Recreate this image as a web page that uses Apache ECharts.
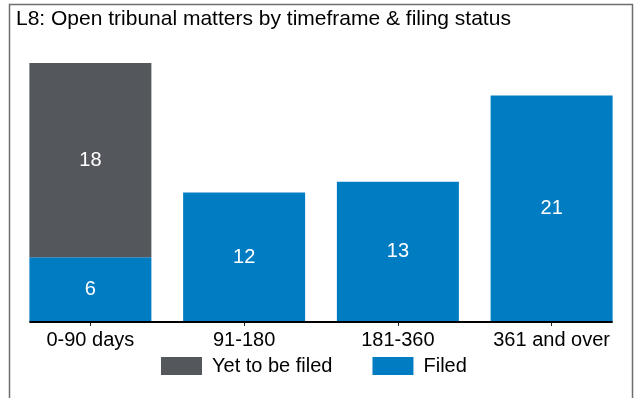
<!DOCTYPE html>
<html>
<head>
<meta charset="utf-8">
<script src="https://cdn.jsdelivr.net/npm/echarts@6/dist/echarts.min.js"></script>
<style>
  html, body { margin: 0; padding: 0; background: #fff; }
  #chart { width: 643px; height: 398px; }
</style>
</head>
<body>
<div id="chart"></div>
<script>
// Open tribunal matters, grouped by age bucket and split by filing status
const categories = ['0-90 days', '91-180', '181-360', '361 and over'];
const filed = [6, 12, 13, 21];
const yetToBeFiled = [18, null, null, null];

const FONT = '"Liberation Sans", Arial, sans-serif';
const BAR_W = 122;
const GREY = '#54575b';
const BLUE = '#007cc3';

const chart = echarts.init(document.getElementById('chart'), null, { renderer: 'canvas' });

const labelStyle = {
  show: true,
  position: 'inside',
  color: '#fff',
  fontSize: 20,
  fontFamily: FONT
};

chart.setOption({
  animation: false,
  backgroundColor: '#fff',
  title: {
    text: 'L8: Open tribunal matters by timeframe & filing status',
    left: 16,
    top: 9,
    padding: 0,
    textStyle: { fontSize: 21, fontWeight: 'normal', color: '#000', fontFamily: FONT }
  },
  legend: {
    data: ['Yet to be filed', 'Filed'],
    left: 161,
    top: 356,
    padding: 0,
    itemWidth: 41,
    itemHeight: 18,
    itemGap: 40,
    icon: 'rect',
    textStyle: { fontSize: 20, color: '#000', fontFamily: FONT, padding: [0, 0, 0, 5] }
  },
  grid: { left: 13.5, right: 14.5, top: 63, bottom: 76, containLabel: false },
  xAxis: {
    type: 'category',
    data: categories,
    axisLine: { show: false },
    axisTick: { show: true, alignWithLabel: true, length: 4, lineStyle: { color: '#222', width: 1 } },
    axisLabel: { color: '#000', fontSize: 20, fontFamily: FONT, margin: 8 },
    splitLine: { show: false }
  },
  yAxis: {
    type: 'value',
    min: 0,
    max: 24,
    show: false,
    splitLine: { show: false }
  },
  series: [
    {
      name: 'Filed',
      type: 'bar',
      stack: 'total',
      barWidth: BAR_W,
      data: filed,
      itemStyle: { color: BLUE },
      label: labelStyle
    },
    {
      name: 'Yet to be filed',
      type: 'bar',
      stack: 'total',
      barWidth: BAR_W,
      data: yetToBeFiled,
      itemStyle: { color: GREY },
      label: labelStyle
    }
  ]
});

// Baseline running from the outer edge of the first bar to the outer edge of the last bar,
// plus the outer frame of the panel.
const xFirst = chart.convertToPixel({ xAxisIndex: 0 }, categories[0]) - BAR_W / 2;
const xLast = chart.convertToPixel({ xAxisIndex: 0 }, categories[categories.length - 1]) + BAR_W / 2;
const yZero = chart.convertToPixel({ yAxisIndex: 0 }, 0);

chart.setOption({
  graphic: [
    {
      type: 'line',
      shape: { x1: xFirst, y1: yZero, x2: xLast, y2: yZero },
      style: { stroke: '#000', lineWidth: 2 },
      z: 10
    },
    {
      type: 'rect',
      shape: { x: 9.5, y: 4.5, width: 623, height: 420 },
      style: { fill: null, stroke: '#6e6e6e', lineWidth: 1.5 },
      z: 10
    }
  ]
});
</script>
</body>
</html>
